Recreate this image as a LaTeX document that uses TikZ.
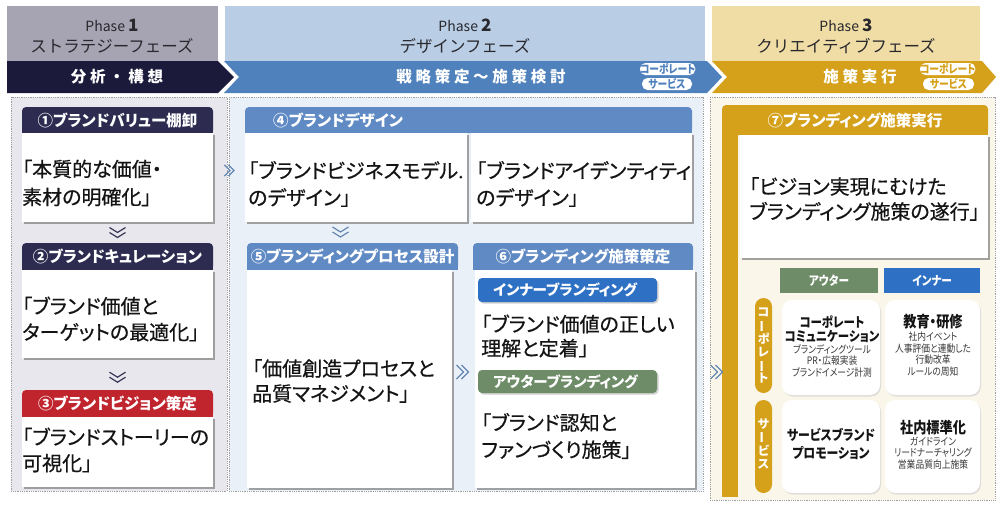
\documentclass[tikz,border=0pt]{standalone}
\usepackage{fontspec}
\setmainfont{Noto Sans CJK JP}[RawFeature=+palt]
\newfontfamily\fullfont{Noto Sans CJK JP}
\newfontfamily\bodyfont{Noto Sans CJK JP}[RawFeature=+palt, FakeBold=0.6]
\newfontfamily\bandfont{Noto Sans CJK JP}[LetterSpace=24]
\newfontfamily\condfont{Noto Sans CJK JP}[FakeStretch=0.85,RawFeature=+palt]
\usetikzlibrary{shadows,calc}
\definecolor{ph1}{RGB}{166,163,178}
\definecolor{ph2}{RGB}{185,205,229}
\definecolor{ph3}{RGB}{240,221,165}
\definecolor{phtext}{RGB}{40,40,45}
\definecolor{navy}{RGB}{27,26,58}
\definecolor{navyh}{RGB}{45,44,80}
\definecolor{redh}{RGB}{192,37,45}
\definecolor{blueband}{RGB}{79,129,189}
\definecolor{blueh}{RGB}{96,138,196}
\definecolor{gold}{RGB}{213,161,27}
\definecolor{innerb}{RGB}{46,112,196}
\definecolor{outerg}{RGB}{110,140,104}
\definecolor{bg1}{RGB}{231,231,237}
\definecolor{bg2}{RGB}{234,240,248}
\definecolor{bg3}{RGB}{250,246,234}
\definecolor{txt}{RGB}{20,20,20}
\definecolor{chev}{RGB}{100,135,178}
\definecolor{chevd}{RGB}{55,55,85}
\newcommand\tatebo{\rotatebox[origin=c]{90}{ー}}
\newcommand\sqb[2]{\fill[#2] ($(#1.south west)+(0,-4)$) rectangle (#1.south east);}
\tikzset{
  phbox/.style={inner sep=0pt, outer sep=0pt, anchor=north west},
  phT/.style={inner sep=0pt, text=phtext, font=\fontsize{14}{14}\selectfont},
  phS/.style={inner sep=0pt, text=phtext, font=\fullfont\fontsize{16.5}{17}\selectfont},
  bandT/.style={inner sep=0pt, text=white, font=\bandfont\bfseries\fontsize{15.5}{16}\selectfont},
  badge/.style={fill=white, rounded corners=5.5pt, inner sep=0pt, outer sep=0pt, anchor=north west, font=\condfont\bfseries\fontsize{11.5}{11.5}\selectfont},
  cont/.style={draw=gray!75, line width=0.9pt, dash pattern=on 0.9pt off 0.9pt},
  hdr/.style={rounded corners=4pt, inner sep=0pt, outer sep=0pt, anchor=north west, text=white, font=\bfseries\fontsize{15.5}{16}\selectfont},
  wbox/.style={fill=white, inner sep=0pt, outer sep=0pt, anchor=north west, drop shadow={shadow xshift=2pt, shadow yshift=-2pt, fill=black!45, opacity=.8}},
  body/.style={anchor=west, align=left, inner sep=0pt, text=txt, font=\bodyfont\fontsize{20}{26}\selectfont},
  pillbox/.style={rounded corners=4pt, inner sep=0pt, outer sep=0pt, anchor=north west, drop shadow={shadow xshift=1.5pt, shadow yshift=-1.5pt, fill=black!30, opacity=.6}},
  pillT/.style={anchor=west, inner sep=0pt, text=white, font=\bfseries\fontsize{14.5}{15}\selectfont},
  gbox/.style={fill=white, rounded corners=10pt, inner sep=0pt, outer sep=0pt, anchor=north west, drop shadow={shadow xshift=1pt, shadow yshift=-1.5pt, fill=black!20, opacity=.6}},
  ghdr/.style={inner sep=0pt, outer sep=0pt, anchor=north west, text=white, font=\condfont\bfseries\fontsize{12.5}{13}\selectfont},
  gpill/.style={fill=gold, rounded corners=8.5pt, inner sep=0pt, outer sep=0pt, anchor=north west},
  vt/.style={inner sep=0pt, align=center, text=white, font=\bfseries\fontsize{12}{12.8}\selectfont},
  gbig/.style={inner sep=0pt, align=center, text=txt, font=\condfont\bfseries\fontsize{13.5}{14}\selectfont},
  gsmall/.style={inner sep=0pt, align=center, text=txt!85, font=\condfont\fontsize{10.3}{11.5}\selectfont},
  dchevdown/.pic={\draw[pic actions, line width=1.2pt] (-8,-5) -- (0,0) -- (8,-5) (-8,0) -- (0,5) -- (8,0);},
  dchevright/.pic={\draw[pic actions, line width=1.2pt] (-7,-7) -- (0,0) -- (-7,7) (-2,-7) -- (5,0) -- (-2,7);}
}
\begin{document}
\begin{tikzpicture}[x=1pt,y=-1pt]
\useasboundingbox (0,0) rectangle (1003,507);
\fill[white] (0,0) rectangle (1003,507);

% ---------- phase headers ----------
\node[phbox, fill=ph1, minimum width=211pt, minimum height=55pt] (P1) at (7,6) {};
\node[phbox, fill=ph2, minimum width=480pt, minimum height=55pt] (P2) at (225,6) {};
\node[phbox, fill=ph3, minimum width=268pt, minimum height=55pt] (P3) at (712,6) {};
\node[phT] (p1a) at (112,25) {Phase {\bfseries\fontsize{17}{17}\selectfont 1}};
\node[phS] (p1b) at (112,46) {ストラテジーフェーズ};
\node[phT] (p2a) at (465,25) {Phase {\bfseries\fontsize{17}{17}\selectfont 2}};
\node[phS] (p2b) at (465,46) {デザインフェーズ};
\node[phT] (p3a) at (846,25) {Phase {\bfseries\fontsize{17}{17}\selectfont 3}};
\node[phS] (p3b) at (846,46) {クリエイティブフェーズ};

% ---------- arrow bands ----------
\fill[navy] (7,61) -- (218,61) -- (234,77) -- (218,93) -- (7,93) -- cycle;
\fill[blueband] (224,61) -- (707,61) -- (722,77) -- (707,93) -- (224,93) -- (239,77) -- cycle;
\fill[gold] (712,61) -- (982,61) -- (996,77) -- (982,93) -- (712,93) -- (727,77) -- cycle;
\node[bandT] (bt1) at (117,77) {分析・構想};
\node[bandT] (bt2) at (481,77) {戦略策定～施策検討};
\node[bandT] (bt3) at (860,77) {施策実行};
\node[badge, text=blueband, minimum width=53pt, minimum height=12pt] (bg1) at (640,63) {コーポレート};
\node[badge, text=blueband, minimum width=50pt, minimum height=12pt] (bg2) at (642,78) {サービス};
\node[badge, text=gold, minimum width=55pt, minimum height=12pt] (bg3) at (920,63) {コーポレート};
\node[badge, text=gold, minimum width=51pt, minimum height=12pt] (bg4) at (923,78) {サービス};

% ---------- containers ----------
\filldraw[cont, fill=bg1] (11,97) rectangle (227,491);
\filldraw[cont, fill=bg2] (229,97) rectangle (703,491);
\filldraw[cont, fill=bg3] (710,97) rectangle (995,500);

% ---------- phase 1 column ----------
\node[hdr, fill=navyh, minimum width=191pt, minimum height=27pt] (h1) at (22,107) {①ブランドバリュー棚卸};
\sqb{h1}{navyh}
\node[wbox, minimum width=191pt, minimum height=89pt] (b1) at (22,133) {};
\node[body, font=\bodyfont\fontsize{20}{28}\selectfont] (t1) at (22,183) {「本質的な価値・\\素材の明確化」};

\node[hdr, fill=navyh, minimum width=191pt, minimum height=27pt] (h2) at (22,243) {②ブランドキュレーション};
\sqb{h2}{navyh}
\node[wbox, minimum width=191pt, minimum height=88pt] (b2) at (22,270) {};
\node[body] (t2) at (22,319) {「ブランド価値と\\ターゲットの最適化」};

\node[hdr, fill=redh, minimum width=191pt, minimum height=27pt] (h3) at (22,390) {③ブランドビジョン策定};
\sqb{h3}{redh}
\node[wbox, minimum width=191pt, minimum height=70pt] (b3) at (22,417) {};
\node[body] (t3) at (22,450) {「ブランドストーリーの\\可視化」};

% ---------- phase 2 column ----------
\node[hdr, fill=blueh, minimum width=447pt, minimum height=26pt] (h4) at (245,107) {};
\sqb{h4}{blueh}
\node[inner sep=0pt, anchor=west, text=white, font=\bfseries\fontsize{15.5}{16}\selectfont] (h4t) at (273,120) {④ブランドデザイン};
\node[wbox, minimum width=222pt, minimum height=89pt] (b4a) at (245,133) {};
\node[wbox, minimum width=221pt, minimum height=89pt] (b4b) at (471,133) {};
\node[body, font=\bodyfont\fontsize{20}{27}\selectfont] (t4a) at (248,184) {「ブランドビジネスモデル.\\のデザイン」};
\node[body, font=\bodyfont\fontsize{20}{27}\selectfont] (t4b) at (476,184) {「ブランドアイデンティティ\\のデザイン」};

\node[hdr, fill=blueh, minimum width=211pt, minimum height=27pt] (h5) at (247,243) {⑤ブランディングプロセス設計};
\sqb{h5}{blueh}
\node[hdr, fill=blueh, minimum width=220pt, minimum height=27pt] (h6) at (473,243) {⑥ブランディング施策策定};
\sqb{h6}{blueh}
\node[wbox, minimum width=205pt, minimum height=218pt] (b5) at (247,270) {};
\node[body, font=\bodyfont\fontsize{20}{25}\selectfont] (t5) at (252,381) {「価値創造プロセスと\\品質マネジメント」};
\node[wbox, minimum width=220pt, minimum height=218pt] (b6) at (475,270) {};
\node[pillbox, fill=innerb, minimum width=179pt, minimum height=24pt] (pin) at (478,278) {};
\node[pillT] (pint) at (493,290) {インナーブランディング};
\node[body, font=\bodyfont\fontsize{20}{24}\selectfont] (t6a) at (481,336) {「ブランド価値の正しい\\理解と定着」};
\node[pillbox, fill=outerg, minimum width=179pt, minimum height=23pt] (pout) at (478,370) {};
\node[pillT] (poutt) at (493,381.5) {アウターブランディング};
\node[body, font=\bodyfont\fontsize{20}{27}\selectfont] (t6b) at (481,436) {「ブランド認知と\\ファンづくり施策」};

% ---------- phase 3 column ----------
\node[hdr, fill=gold, minimum width=266pt, minimum height=30pt] (h7) at (722,105) {⑦ブランディング施策実行};
\sqb{h7}{gold}
\fill[gold] (h7.south west) rectangle (738,497);
\node[wbox, minimum width=248pt, minimum height=123pt] (b7) at (740,135) {};
\node[body, font=\bodyfont\fontsize{20}{25}\selectfont] (t7) at (749,199) {「ビジョン実現にむけた\\ブランディング施策の遂行」};

\node[ghdr, fill=outerg, minimum width=98pt, minimum height=25pt] (gout) at (780,268) {アウター};
\node[ghdr, fill=innerb, minimum width=96pt, minimum height=25pt] (gin) at (884,268) {インナー};
\node[gpill, minimum width=17pt, minimum height=95pt] (vp1) at (755,298) {};
\node[gpill, minimum width=17pt, minimum height=93pt] (vp2) at (755,400) {};
\node[vt] (vp1t) at (vp1.center) {コ\\\tatebo\\ポ\\レ\\\tatebo\\ト};
\node[vt] (vp2t) at ($(vp2.center)+(0,-3)$) {サ\\\tatebo\\ビ\\ス};

\node[gbox, minimum width=98pt, minimum height=95pt] (ga) at (782,300) {};
\node[gbox, minimum width=95pt, minimum height=95pt] (gb) at (885,300) {};
\node[gbox, minimum width=98pt, minimum height=93pt] (gc) at (782,400) {};
\node[gbox, minimum width=95pt, minimum height=93pt] (gd) at (885,400) {};

\node[gbig] (gat) at (832,329) {コーポレート\\コミュニケーション};
\node[gsmall] (gas) at (832,361) {ブランディングツール\\PR・広報実装\\ブランドイメージ計測};
\node[gbig, font=\condfont\bfseries\fontsize{15.5}{16}\selectfont] (gbt) at (933,322) {教育・研修};
\node[gsmall] (gbs) at (933,354) {社内イベント\\人事評価と連動した\\行動改革\\ルールの周知};
\node[gbig, font=\condfont\bfseries\fontsize{14}{18}\selectfont] (gct) at (831,444) {サービスブランド\\プロモーション};
\node[gbig, font=\condfont\bfseries\fontsize{15.5}{16}\selectfont] (gdt) at (933,428) {社内標準化};
\node[gsmall] (gds) at (933,453) {ガイドライン\\リードナーチャリング\\営業品質向上施策};

% ---------- chevrons ----------
\pic[draw=chevd] at ($(b1.south)!0.5!(h2.north)$) {dchevdown};
\pic[draw=chevd] at ($(b2.south)!0.6!(h3.north)$) {dchevdown};
\pic[draw=chev] at ($(h5.north)+(-12,-11)$) {dchevdown};
\pic[draw=chev, scale=0.8] at ($(b4a.west)+(-15,-7)$) {dchevright};
\pic[draw=chev] at ($(b5.east)!0.5!(b6.west)+(0,-7)$) {dchevright};
\pic[draw=chev] at ($(b6.east)!0.5!(b7.west |- b6.east)+(0,-7)$) {dchevright};
\end{tikzpicture}
\end{document}
